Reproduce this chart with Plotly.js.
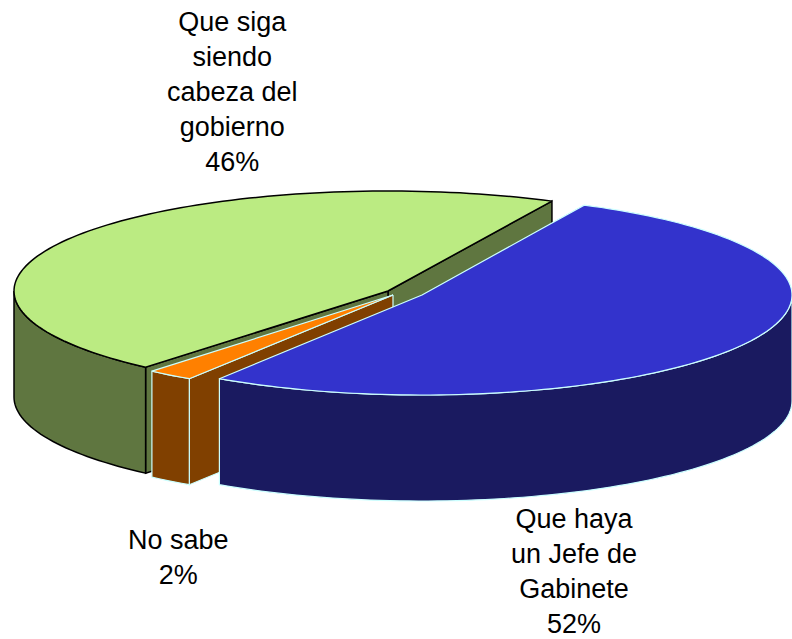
<!DOCTYPE html>
<html>
<head>
<meta charset="utf-8">
<script src="https://cdn.plot.ly/plotly-3.0.1.min.js"></script>
<style>html,body{margin:0;padding:0;background:#fff}</style>
</head>
<body>
<div id="chart" style="width:792px;height:639px"></div>
<script>
// Data
const categories = ["Que haya<br>un Jefe de<br>Gabinete", "No sabe", "Que siga<br>siendo<br>cabeza del<br>gobierno"];
const values = [52, 2, 46];

// Colours
const topColors = ["#3333CC", "#FF8000", "#BBEB82"];
const sideColors = ["#1A1A60", "#804000", "#5F7640"];
const edgeColors = ["#CCFFFF", "#CCFFFF", "#000000"];
const edgeWidths = [1.2, 1.2, 1.5];

// Projection of the tilted, exploded pie onto the axes (axis units = page pixels)
const startAngle = 64, radiusY = 100, depth = 106;
const centers = [[422, 295], [393, 295], [388, 291]];
const radii = [370, 372, 374];
const labelPos = [[574, 502], [178, 523], [232, 5]];

const total = values.reduce((a, b) => a + b, 0);
const rad = d => d * Math.PI / 180;
let running = startAngle;
const slices = values.map((v, i) => {
  const from = running, to = running - v / total * 360;
  running = to;
  return {i, from, to, cx: centers[i][0], cy: centers[i][1], rx: radii[i]};
});
const pt = (s, a, dz = 0) => [s.cx + s.rx * Math.cos(rad(a)), s.cy - radiusY * Math.sin(rad(a)) + dz];
function arc(s, a, b, dz = 0) {
  const n = Math.max(2, Math.ceil(Math.abs(b - a) / 1.5)), out = [];
  for (let k = 0; k <= n; k++) out.push(pt(s, a + (b - a) * k / n, dz));
  return out;
}
function poly(points, fill, i) {
  const p = points.concat([points[0]]);
  return {type: "scatter", mode: "lines", x: p.map(q => q[0]), y: p.map(q => q[1]),
    fill: "toself", fillcolor: fill, line: {color: edgeColors[i], width: edgeWidths[i], simplify: false},
    hoverinfo: "skip", showlegend: false};
}
function topFace(s) { return poly([[s.cx, s.cy]].concat(arc(s, s.from, s.to)), topColors[s.i], s.i); }
function outerWall(s, a, b) {
  return poly(arc(s, a, b).concat(arc(s, b, a, depth)), sideColors[s.i], s.i);
}
function radialWall(s, a) {
  const p = pt(s, a), q = pt(s, a, depth);
  return poly([[s.cx, s.cy], p, q, [s.cx, s.cy + depth]], sideColors[s.i], s.i);
}

const [blue, orange, green] = slices;
const traces = [
  // green slice
  radialWall(green, green.to),
  radialWall(green, green.from),
  outerWall(green, -180, green.from),
  topFace(green),
  // orange slice
  radialWall(orange, orange.from),
  outerWall(orange, orange.from, orange.to),
  topFace(orange),
  // blue slice
  outerWall(blue, 0, blue.to),
  topFace(blue)
];

const annotations = categories.map((c, i) => ({
  text: c + "<br>" + values[i] + "%",
  x: labelPos[i][0], y: labelPos[i][1], xref: "x", yref: "y",
  xanchor: "center", yanchor: "top", showarrow: false, align: "center",
  font: {family: "Liberation Sans, Arial, sans-serif", size: 27, color: "#000"}
}));

const hidden = {visible: false, fixedrange: true, showgrid: false, zeroline: false};
Plotly.newPlot("chart", traces, {
  width: 792, height: 639, margin: {l: 0, r: 0, t: 0, b: 0},
  paper_bgcolor: "#fff", plot_bgcolor: "#fff", showlegend: false,
  xaxis: Object.assign({range: [0, 792]}, hidden),
  yaxis: Object.assign({range: [639, 0]}, hidden),
  annotations
}, {staticPlot: true, displayModeBar: false});
</script>
</body>
</html>
